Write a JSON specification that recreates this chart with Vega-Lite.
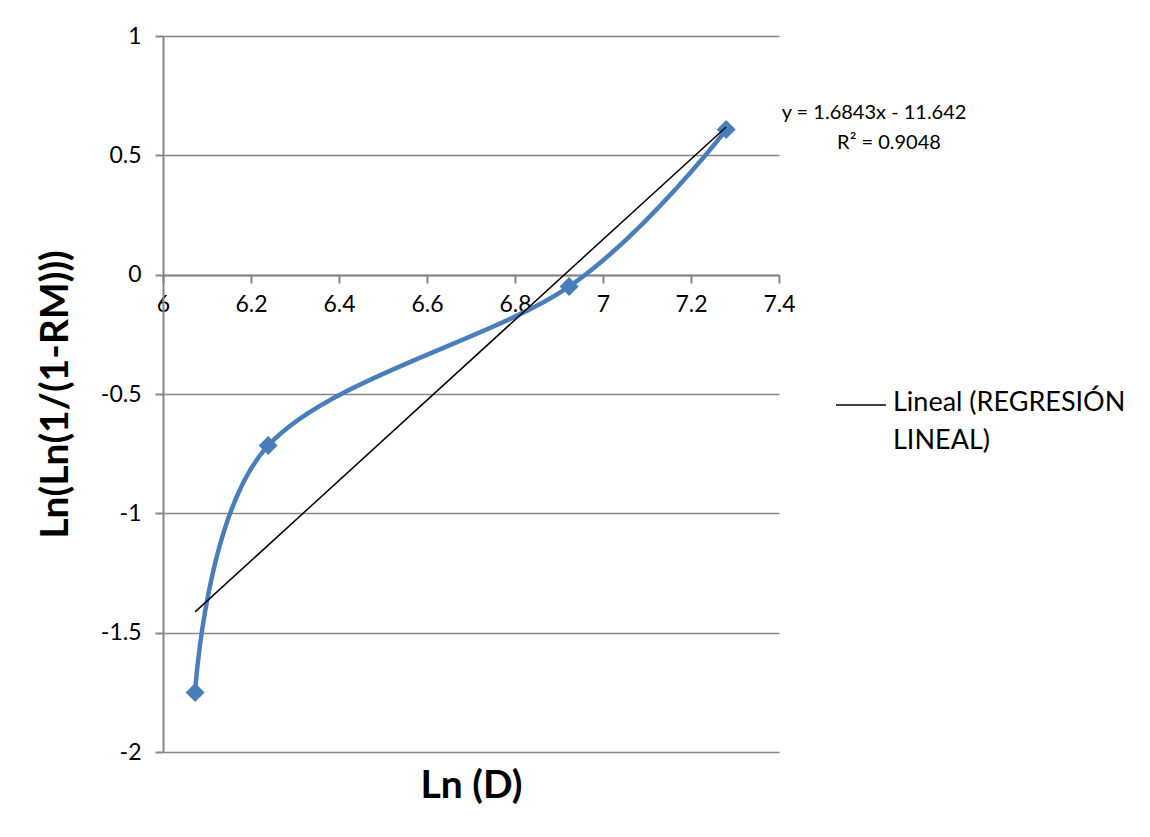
{
  "$schema": "https://vega.github.io/schema/vega-lite/v6.json",
  "width": 616,
  "height": 716,
  "autosize": "none",
  "padding": {"left": 163, "top": 36, "right": 371, "bottom": 85},
  "background": "white",
  "config": {
    "view": {"stroke": null},
    "font": "Lato",
    "axis": {"labelFont": "Lato", "titleFont": "Lato"}
  },
  "datasets": {
    "pts": [
      {"lnD": 6.073, "lnln": -1.751},
      {"lnD": 6.239, "lnln": -0.716},
      {"lnD": 6.923, "lnln": -0.05},
      {"lnD": 7.28, "lnln": 0.608}
    ],
    "reg": [
      {"lnD": 6.073, "fit": -1.413, "serie": "Lineal (REGRESIÓN LINEAL)"},
      {"lnD": 7.28, "fit": 0.619, "serie": "Lineal (REGRESIÓN LINEAL)"}
    ],
    "eq": [
      {"lnD": 7.616, "lnln": 0.679, "t": "y = 1.6843x - 11.642"},
      {"lnD": 7.65, "lnln": 0.553, "t": "R² = 0.9048"}
    ]
  },
  "layer": [
    {
      "data": {"name": "pts"},
      "mark": {"type": "line", "interpolate": "cardinal", "stroke": "#4a7ebb", "strokeWidth": 4.5},
      "encoding": {
        "x": {
          "field": "lnD", "type": "quantitative",
          "scale": {"domain": [6, 7.4], "nice": false, "zero": false},
          "axis": {
            "orient": "bottom", "offset": -477, "values": [6, 6.2, 6.4, 6.6, 6.8, 7, 7.2, 7.4],
            "labelExpr": "'' + datum.value",
            "grid": false, "domainColor": "#868686", "domainWidth": 2,
            "tickColor": "#868686", "tickWidth": 2, "tickSize": 8,
            "labelFontSize": 23, "labelColor": "#000000", "labelPadding": 10,
            "labelFlush": false, "labelOverlap": false,
            "title": "Ln (D)", "titleFontSize": 39, "titleFontWeight": "bold", "titleColor": "#000000",
            "titleY": 510, "titleBaseline": "middle"
          }
        },
        "y": {
          "field": "lnln", "type": "quantitative",
          "scale": {"domain": [-2, 1], "nice": false, "zero": false},
          "axis": {
            "values": [-2, -1.5, -1, -0.5, 0, 0.5, 1],
            "labelExpr": "'' + datum.value",
            "grid": true, "gridColor": "#868686", "gridWidth": 1.5,
            "domainColor": "#868686", "domainWidth": 2,
            "tickColor": "#868686", "tickWidth": 2, "tickSize": 8,
            "labelFontSize": 23, "labelColor": "#000000", "labelPadding": 14,
            "labelFlush": false, "labelOverlap": false,
            "title": "Ln(Ln(1/(1-RM)))", "titleFontSize": 39, "titleFontWeight": "bold", "titleColor": "#000000",
            "titleX": -108, "titleBaseline": "middle"
          }
        }
      }
    },
    {
      "data": {"name": "pts"},
      "mark": {"type": "point", "shape": "diamond", "filled": true, "color": "#4a7ebb", "size": 360, "opacity": 1},
      "encoding": {
        "x": {"field": "lnD", "type": "quantitative"},
        "y": {"field": "lnln", "type": "quantitative"}
      }
    },
    {
      "data": {"name": "reg"},
      "mark": {"type": "line", "strokeWidth": 1.5},
      "encoding": {
        "x": {"field": "lnD", "type": "quantitative"},
        "y": {"field": "fit", "type": "quantitative"},
        "color": {
          "field": "serie", "type": "nominal",
          "scale": {"domain": ["Lineal (REGRESIÓN LINEAL)"], "range": ["#000000"]},
          "legend": {
            "orient": "none", "legendX": 672, "legendY": 343,
            "title": null, "symbolType": "stroke", "symbolSize": 2500, "symbolStrokeWidth": 1.5,
            "labelFontSize": 27, "labelColor": "#000000", "labelFont": "Lato", "labelLimit": 400,
            "labelOffset": 6,
            "labelExpr": "['Lineal (REGRESIÓN', 'LINEAL)']",
            "labelBaseline": "top",
            "encode": {"labels": {"update": {"dy": {"value": -15}, "lineHeight": {"value": 38}}}}
          }
        }
      }
    },
    {
      "data": {"name": "eq"},
      "mark": {"type": "text", "fontSize": 20, "color": "#000000", "align": "center", "baseline": "middle", "font": "Lato"},
      "encoding": {
        "x": {"field": "lnD", "type": "quantitative"},
        "y": {"field": "lnln", "type": "quantitative"},
        "text": {"field": "t"}
      }
    }
  ]
}
